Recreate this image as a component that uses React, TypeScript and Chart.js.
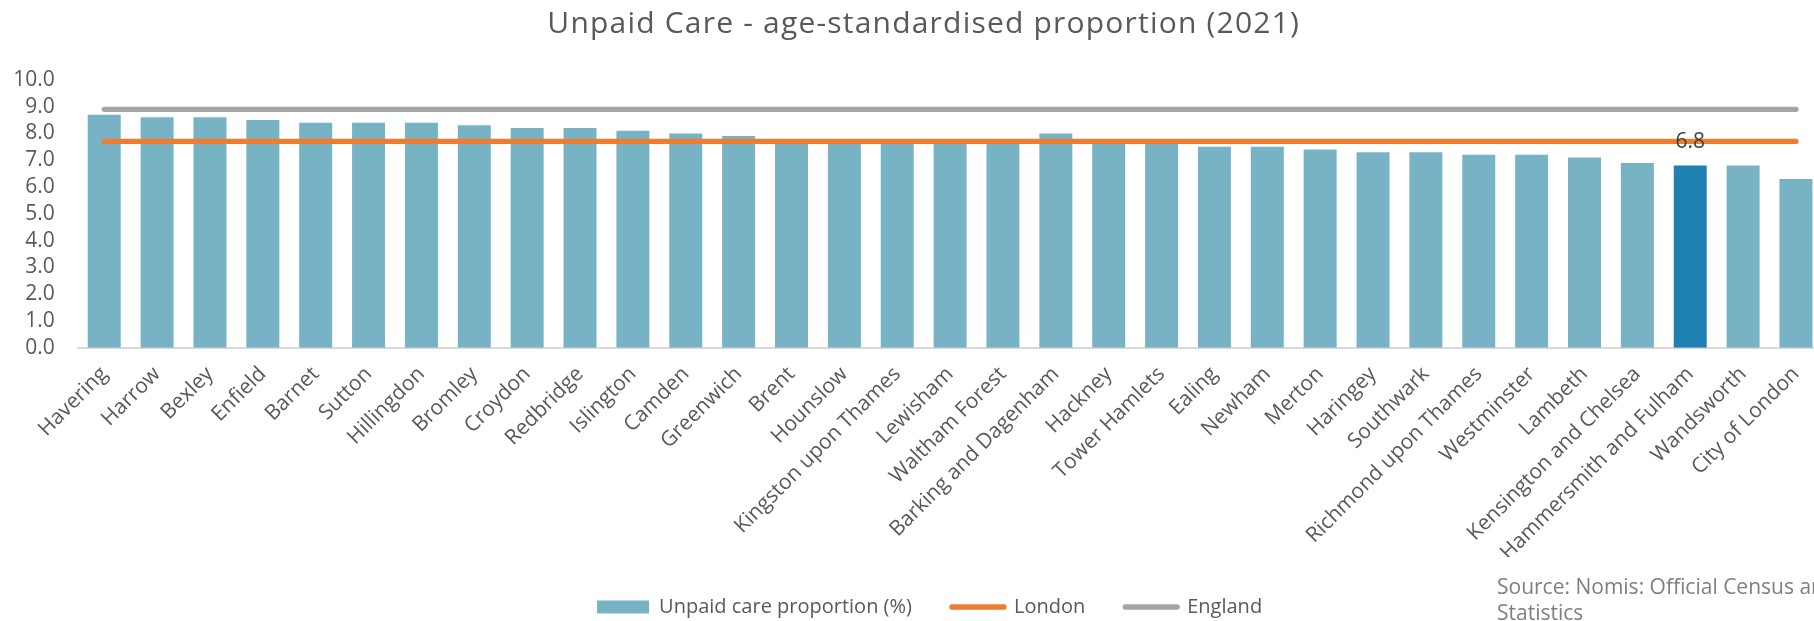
import React, { useEffect, useRef } from 'react';
import { Chart, registerables } from 'chart.js';

Chart.register(...registerables);

const boroughs = [
  'Havering', 'Harrow', 'Bexley', 'Enfield', 'Barnet', 'Sutton', 'Hillingdon', 'Bromley',
  'Croydon', 'Redbridge', 'Islington', 'Camden', 'Greenwich', 'Brent', 'Hounslow',
  'Kingston upon Thames', 'Lewisham', 'Waltham Forest', 'Barking and Dagenham', 'Hackney',
  'Tower Hamlets', 'Ealing', 'Newham', 'Merton', 'Haringey', 'Southwark',
  'Richmond upon Thames', 'Westminster', 'Lambeth', 'Kensington and Chelsea',
  'Hammersmith and Fulham', 'Wandsworth', 'City of London',
];

const unpaidCare = [
  8.7, 8.6, 8.6, 8.5, 8.4, 8.4, 8.4, 8.3,
  8.2, 8.2, 8.1, 8.0, 7.9, 7.7, 7.7,
  7.7, 7.7, 7.7, 8.0, 7.7,
  7.6, 7.5, 7.5, 7.4, 7.3, 7.3,
  7.2, 7.2, 7.1, 6.9,
  6.8, 6.8, 6.3,
];

const londonLine = [
  7.7, 7.7, 7.7, 7.7, 7.7, 7.7, 7.7, 7.7, 7.7, 7.7, 7.7,
  7.7, 7.7, 7.7, 7.7, 7.7, 7.7, 7.7, 7.7, 7.7, 7.7, 7.7,
  7.7, 7.7, 7.7, 7.7, 7.7, 7.7, 7.7, 7.7, 7.7, 7.7, 7.7,
];

const englandLine = [
  8.9, 8.9, 8.9, 8.9, 8.9, 8.9, 8.9, 8.9, 8.9, 8.9, 8.9,
  8.9, 8.9, 8.9, 8.9, 8.9, 8.9, 8.9, 8.9, 8.9, 8.9, 8.9,
  8.9, 8.9, 8.9, 8.9, 8.9, 8.9, 8.9, 8.9, 8.9, 8.9, 8.9,
];

const highlighted = 'Hammersmith and Fulham';

const TITLE = 'Unpaid Care - age-standardised proportion (2021)';
const SERIES_LABELS = ['Unpaid care proportion (%)', 'London', 'England'];
const SOURCE_LINES = ['Source: Nomis: Official Census and Labour Market', 'Statistics'];

const FONT = '"Open Sans"';
const TEXT = '#595959';
const BAR = '#77B3C5';
const BAR_HI = '#1F80B2';
const ORANGE = '#ED7D31';
const GREY = '#A5A5A5';

const valueLabelPlugin = {
  id: 'valueLabel',
  afterDraw(chart: any) {
    const i = boroughs.indexOf(highlighted);
    const el = chart.getDatasetMeta(0).data[i];
    if (!el) return;
    const ctx = chart.ctx;
    ctx.save();
    ctx.font = `21px ${FONT}`;
    ctx.fillStyle = '#404040';
    ctx.textAlign = 'center';
    ctx.textBaseline = 'alphabetic';
    ctx.fillText(unpaidCare[i].toFixed(1), el.x, el.y - 17.5);
    ctx.restore();
  },
};

export default function App() {
  const ref = useRef<HTMLCanvasElement>(null);

  useEffect(() => {
    const colors = boroughs.map((b) => (b === highlighted ? BAR_HI : BAR));
    const chart = new Chart(ref.current as HTMLCanvasElement, {
      type: 'bar',
      data: {
        labels: boroughs,
        datasets: [
          {
            type: 'bar',
            label: SERIES_LABELS[0],
            data: unpaidCare,
            backgroundColor: colors,
            categoryPercentage: 1,
            barPercentage: 0.624,
            order: 3,
          } as any,
          {
            type: 'line',
            label: SERIES_LABELS[1],
            data: londonLine,
            borderColor: ORANGE,
            backgroundColor: ORANGE,
            borderWidth: 5.3,
            borderCapStyle: 'round',
            pointRadius: 0,
            order: 1,
          } as any,
          {
            type: 'line',
            label: SERIES_LABELS[2],
            data: englandLine,
            borderColor: GREY,
            backgroundColor: GREY,
            borderWidth: 5.3,
            borderCapStyle: 'round',
            pointRadius: 0,
            order: 2,
          } as any,
        ],
      },
      options: {
        responsive: false,
        animation: false,
        layout: { padding: { left: 0, right: 0.8, top: 79.8, bottom: 0 } },
        plugins: {
          title: { display: false },
          legend: {
            position: 'bottom',
            labels: {
              usePointStyle: true,
              pointStyleWidth: 52,
              boxHeight: 13,
              padding: 40,
              color: TEXT,
              font: { family: FONT, size: 20 },
              generateLabels: () => [
                { text: SERIES_LABELS[0], fillStyle: BAR, strokeStyle: BAR, lineWidth: 0, pointStyle: 'rect', datasetIndex: 0, fontColor: TEXT },
                { text: SERIES_LABELS[1], fillStyle: ORANGE, strokeStyle: ORANGE, lineWidth: 5.3, lineCap: 'round', pointStyle: 'line', datasetIndex: 1, fontColor: TEXT },
                { text: SERIES_LABELS[2], fillStyle: GREY, strokeStyle: GREY, lineWidth: 5.3, lineCap: 'round', pointStyle: 'line', datasetIndex: 2, fontColor: TEXT },
              ] as any,
            },
          },
          tooltip: { enabled: false },
        },
        scales: {
          x: {
            grid: { display: false, drawTicks: false },
            border: { color: '#D9D9D9', width: 2 },
            ticks: {
              autoSkip: false,
              minRotation: 45,
              maxRotation: 45,
              padding: 14,
              color: TEXT,
              font: { family: FONT, size: 21 },
            },
            afterFit: (s: any) => {
              s.height = 209.2;
            },
          },
          y: {
            min: 0,
            max: 10,
            grid: { display: false, drawTicks: false },
            border: { display: false },
            ticks: {
              autoSkip: false,
              stepSize: 1,
              padding: 23,
              color: TEXT,
              font: { family: FONT, size: 21 },
              callback: (v: any) => Number(v).toFixed(1),
            },
            afterFit: (s: any) => {
              s.width = 77.8;
            },
          },
          spacer: {
            type: 'linear',
            position: 'right',
            min: 0,
            max: 10,
            grid: { display: false, drawTicks: false },
            border: { display: false },
            ticks: { display: false },
            afterFit: (s: any) => {
              s.width = 36.8;
            },
          },
        },
      } as any,
      plugins: [valueLabelPlugin],
    });
    return () => chart.destroy();
  }, []);

  return (
    <div
      style={{
        position: 'fixed',
        left: 0,
        top: 0,
        width: 1814,
        height: 621,
        overflow: 'hidden',
        background: '#ffffff',
      }}
    >
      <canvas
        ref={ref}
        width={1860}
        height={627}
        style={{ position: 'absolute', left: 0, top: 0, display: 'block' }}
      />
      <div
        style={{
          position: 'absolute',
          left: 0,
          top: 5,
          width: 1847.4,
          textAlign: 'center',
          fontFamily: FONT,
          fontSize: 30,
          lineHeight: '34px',
          letterSpacing: '1.2px',
          color: TEXT,
          whiteSpace: 'nowrap',
        }}
      >
        {TITLE}
      </div>
      <div
        style={{
          position: 'absolute',
          left: 1497,
          top: 572.6,
          fontFamily: FONT,
          fontSize: 21,
          lineHeight: '26.6px',
          color: '#7F7F7F',
          whiteSpace: 'nowrap',
        }}
      >
        {SOURCE_LINES[0]}
        <br />
        {SOURCE_LINES[1]}
      </div>
    </div>
  );
}
